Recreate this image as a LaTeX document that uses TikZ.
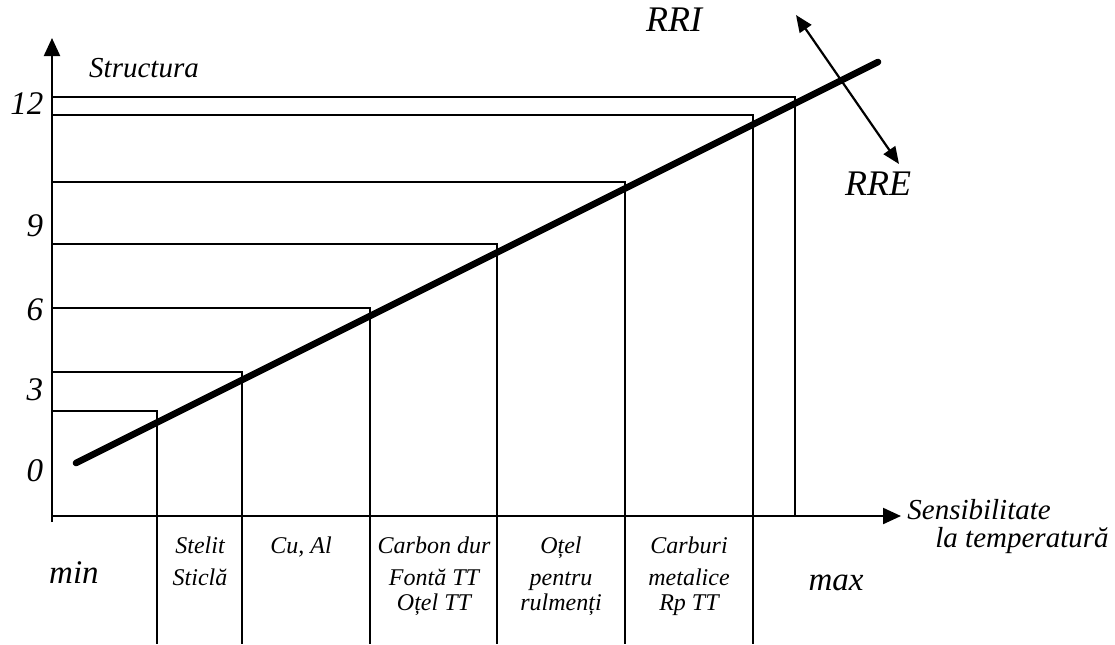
\documentclass[tikz,border=0pt]{standalone}
\usepackage{fontspec}
\setmainfont{Liberation Serif}
\usetikzlibrary{arrows.meta}
\begin{document}
\begin{tikzpicture}[x=0.5pt,y=-0.5pt,
  stepline/.style={line width=1.1pt},
  axisline/.style={line width=1.1pt,-{Triangle[length=9pt,width=8pt]}},
  trendline/.style={line width=3.3pt,line cap=round},
  dirarrow/.style={line width=1.1pt,{Triangle[length=8.5pt,width=7pt]}-{Triangle[length=8.5pt,width=7pt]}},
  tick/.style={font=\fontsize{16.5}{18}\selectfont\itshape,inner sep=0pt},
  cell/.style={font=\fontsize{12}{13}\selectfont\itshape,inner sep=0pt,anchor=base},
  axlabel/.style={font=\fontsize{14.5}{16}\selectfont\itshape,inner sep=0pt},
  biglabel/.style={font=\fontsize{18}{20}\selectfont\itshape,inner sep=0pt},
  endlabel/.style={font=\fontsize{16.5}{18}\selectfont\itshape,inner sep=0pt,anchor=base}]
\useasboundingbox (0,0) rectangle (1115,644);

% axes
\coordinate (ytop) at (52,38);
\coordinate (ybot) at (52,522);
\coordinate (xstart) at (52,516);
\coordinate (xend) at (901,516);
\draw[axisline] (ybot) -- (ytop);
\draw[axisline] (xstart) -- (xend);

% stepped level lines: from the vertical axis across, then down
\foreach \yy/\xx/\bb [count=\i] in {411/157/644, 372/242/644, 308/370/644,
    244/497/644, 182/625/644, 115/753/644, 97/795/516} {
  \coordinate (h\i) at (52,\yy);
  \coordinate (v\i) at (\xx,\bb);
  \draw[stepline] (h\i) -| (v\i);
}

% trend line
\coordinate (t0) at (76,463);
\coordinate (t1) at (878,62);
\draw[trendline] (t0) -- (t1);

% direction arrow RRI / RRE
\coordinate (d0) at (796,15);
\coordinate (d1) at (899,164);
\draw[dirarrow] (d0) -- (d1);

% axis labels
\node[axlabel] (struct) at (144,68) {Structura};
\node[tick] (n12) at (27,104) {12};
\node[tick] (n9) at (35,226) {9};
\node[tick] (n6) at (35,310) {6};
\node[tick] (n3) at (35,390) {3};
\node[tick] (n0) at (35,471) {0};
\node[axlabel,anchor=base west] (sens) at (907,519) {Sensibilitate};
\node[axlabel,anchor=base east] (temp) at (1109,547) {la temperatură};
\node[biglabel] (rri) at (674,20) {RRI};
\node[biglabel] (rre) at (878,184) {RRE};

% material columns
\node[endlabel] (min) at (74,583) {min};
\node[endlabel] (max) at (836,590) {max};
\node[cell] (c1a) at (200,553) {Stelit};
\node[cell] (c1b) at (200,585) {Sticlă};
\node[cell] (c2a) at (301,553) {Cu, Al};
\node[cell] (c3a) at (434,553) {Carbon dur};
\node[cell] (c3b) at (434,585) {Fontă TT};
\node[cell] (c3c) at (434,610) {Oțel TT};
\node[cell] (c4a) at (561,553) {Oțel};
\node[cell] (c4b) at (561,585) {pentru};
\node[cell] (c4c) at (561,610) {rulmenți};
\node[cell] (c5a) at (689,553) {Carburi};
\node[cell] (c5b) at (689,585) {metalice};
\node[cell] (c5c) at (689,610) {Rp TT};
\end{tikzpicture}
\end{document}
